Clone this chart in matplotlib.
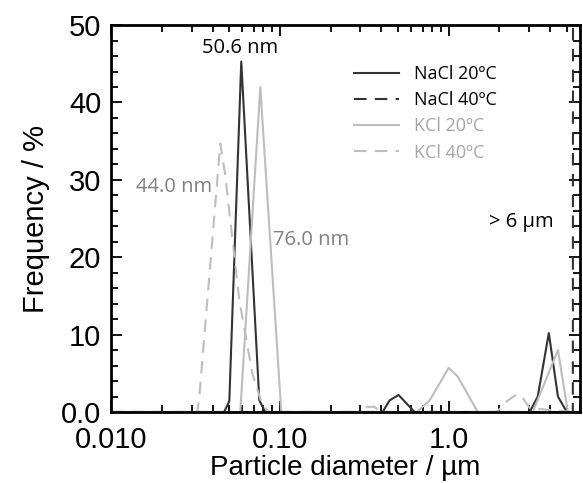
import numpy as np
import matplotlib
matplotlib.use("Agg")
import matplotlib.pyplot as plt
from matplotlib.ticker import FixedLocator, FuncFormatter, LogLocator, MultipleLocator

# particle diameter (um) and frequency (%)
nacl20_d = [0.01, 0.0468, 0.0502, 0.0591, 0.0756, 0.0820, 0.406, 0.447, 0.505, 0.628,
            3.02, 3.37, 3.92, 4.44, 5.01, 5.4]
nacl20_f = [0, 0, 1.4, 45.3, 1.5, 0, 0, 1.5, 2.2, 0,
            0, 2.0, 10.2, 2.0, 0, 0]

nacl40_d = [0.01, 5.44, 5.46]
nacl40_f = [0, 0, 80]

kcl20_d = [0.01, 0.0583, 0.0766, 0.102, 0.646, 0.772, 1.0, 1.131, 1.486,
           3.15, 4.44, 5.08, 5.4]
kcl20_f = [0, 0, 42.0, 0, 0, 1.5, 5.7, 4.6, 0,
           0, 8.0, 0, 0]

kcl40_d = [0.01, 0.0324, 0.0333, 0.0444, 0.0475, 0.0575, 0.0687, 0.0787, 0.0866,
           0.29, 0.32, 0.36, 0.40, 1.93, 2.15, 2.53, 2.75, 3.02, 5.4]
kcl40_f = [0, 0, 1.8, 34.7, 30.6, 14.5, 5.0, 0.9, 0,
           0, 0.6, 0.7, 0, 0, 1.2, 2.3, 1.8, 0.5, 0]

labels = ["NaCl 20ºC", "NaCl 40ºC", "KCl 20ºC", "KCl 40ºC"]
dark = "#333333"
light = "#bdbdbd"

fig = plt.figure(figsize=(5.83, 4.83), dpi=100)
ax = fig.add_axes([0.1904, 0.147, 0.8045, 0.801])

ax.plot(nacl20_d, nacl20_f, color=dark, lw=1.5, label=labels[0])
ax.plot(nacl40_d, nacl40_f, color=dark, lw=1.5, ls=(0, (6, 4)), label=labels[1])
ax.plot(kcl20_d, kcl20_f, color=light, lw=1.5, label=labels[2])
ax.plot(kcl40_d, kcl40_f, color=light, lw=1.5, ls=(0, (6, 4)), label=labels[3])

ax.set_xscale("log")
ax.set_xlim(0.01, 6.0)
ax.set_ylim(0, 50)

ax.xaxis.set_major_locator(FixedLocator([0.01, 0.1, 1.0]))
ax.xaxis.set_major_formatter(FuncFormatter(lambda v, p: {0.01: "0.010", 0.1: "0.10", 1.0: "1.0"}.get(round(v, 3), "")))
ax.xaxis.set_minor_locator(LogLocator(base=10, subs=np.arange(2, 10)))
ax.xaxis.set_minor_formatter(FuncFormatter(lambda v, p: ""))
ax.yaxis.set_major_locator(MultipleLocator(10))
ax.yaxis.set_minor_locator(MultipleLocator(2))
ax.yaxis.set_major_formatter(FuncFormatter(lambda v, p: "0.0" if v == 0 else f"{v:.0f}"))

ax.tick_params(which="both", direction="in", top=True, right=True, width=1.3,
               labelsize=21)
ax.tick_params(axis="x", which="both", pad=10)
ax.tick_params(axis="y", which="both", pad=7)
ax.tick_params(which="major", length=8)
ax.tick_params(which="minor", length=5)
for s in ax.spines.values():
    s.set_linewidth(2)

for lab in ax.get_xticklabels() + ax.get_yticklabels():
    lab.set_family("Liberation Sans")

ax.set_xlabel("Particle diameter / µm", fontsize=20, family="Liberation Sans", labelpad=1)
ax.set_ylabel("Frequency / %", fontsize=21, family="Liberation Sans", labelpad=8)

ax.text(0.0583, 47.0, "50.6 nm", ha="center", va="center", fontsize=14.5,
        family="Open Sans", color="black")
ax.text(0.0237, 29.1, "44.0 nm", ha="center", va="center", fontsize=14.5,
        family="Open Sans", color="#808080")
ax.text(0.1538, 22.2, "76.0 nm", ha="center", va="center", fontsize=14.5,
        family="Open Sans", color="#808080")
ax.text(2.71, 24.5, "> 6 µm", ha="center", va="center", fontsize=14.5,
        family="Open Sans", color="black")

leg = ax.legend(loc="upper left", bbox_to_anchor=(0.503, 0.915), frameon=False,
                prop={"family": "Open Sans", "size": 13}, handlelength=2.5,
                handletextpad=0.8, labelspacing=0.45, borderaxespad=0)
for txt, c in zip(leg.get_texts(), ["black", "black", "#a6a6a6", "#a6a6a6"]):
    txt.set_color(c)

fig.savefig("out.png", dpi=100)
